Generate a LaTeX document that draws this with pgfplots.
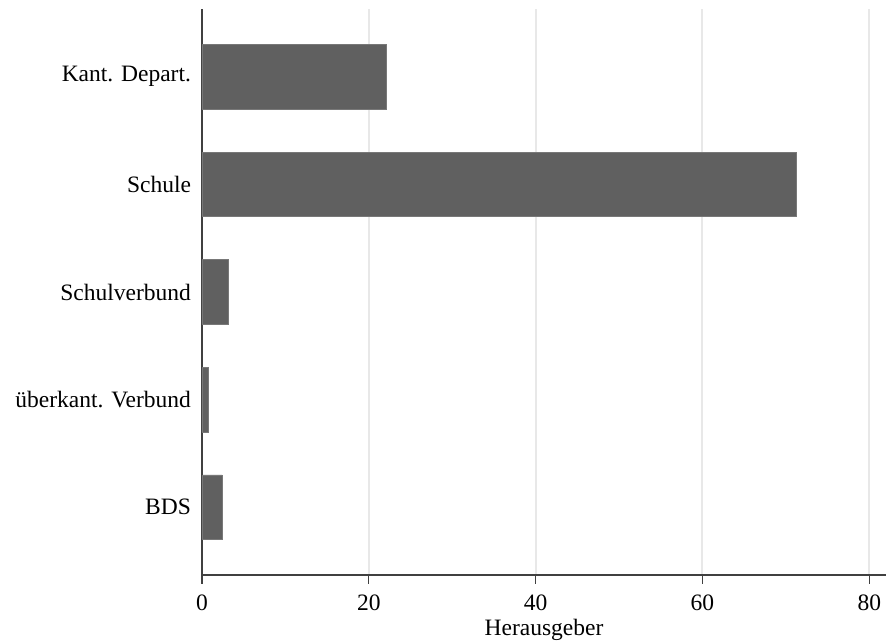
\documentclass[border=0pt]{standalone}
\usepackage{fontspec}
\setmainfont{Liberation Serif}
\usepackage{pgfplots}
\pgfplotsset{compat=1.18}
\definecolor{barc}{RGB}{96,96,96}
\definecolor{gridc}{RGB}{232,232,232}
\definecolor{axc}{RGB}{64,64,64}
\begin{document}
\fontsize{23.5}{28}\selectfont
\begin{tikzpicture}
\begin{axis}[
  scale only axis, width=684pt, height=566pt,
  xbar, bar width=0.6,
  xmin=0, xmax=82, ymin=0.37, ymax=5.63,
  axis lines*=left,
  axis line style={axc, line width=1.3pt},
  xtick={0,20,40,60,80},
  ytick={1,2,3,4,5},
  yticklabels={BDS, überkant. Verbund, Schulverbund, Schule, Kant. Depart.},
  tick align=outside,
  major tick length=9pt,
  xtick style={axc, line width=1.3pt},
  ytick style={draw=none},
  xmajorgrids,
  grid style={gridc, line width=2pt},
  xlabel={Herausgeber},
  xlabel style={yshift=8pt},
  ticklabel style={font=\fontsize{23.5}{28}\selectfont},
  yticklabel style={xshift=6pt},
  xticklabel style={yshift=-3pt},
  label style={font=\fontsize{23.5}{28}\selectfont},
  /pgf/number format/assume math mode=true,
]
\addplot[fill=barc, draw=barc!85!white, line width=0.6pt] coordinates {
  (2.4,1) (0.8,2) (3.2,3) (71.3,4) (22.1,5)
};
\end{axis}
\pgfresetboundingbox
\path (current axis.south west) ++(-202pt,-69pt) rectangle ++(887pt,644pt);
\end{tikzpicture}
\end{document}
